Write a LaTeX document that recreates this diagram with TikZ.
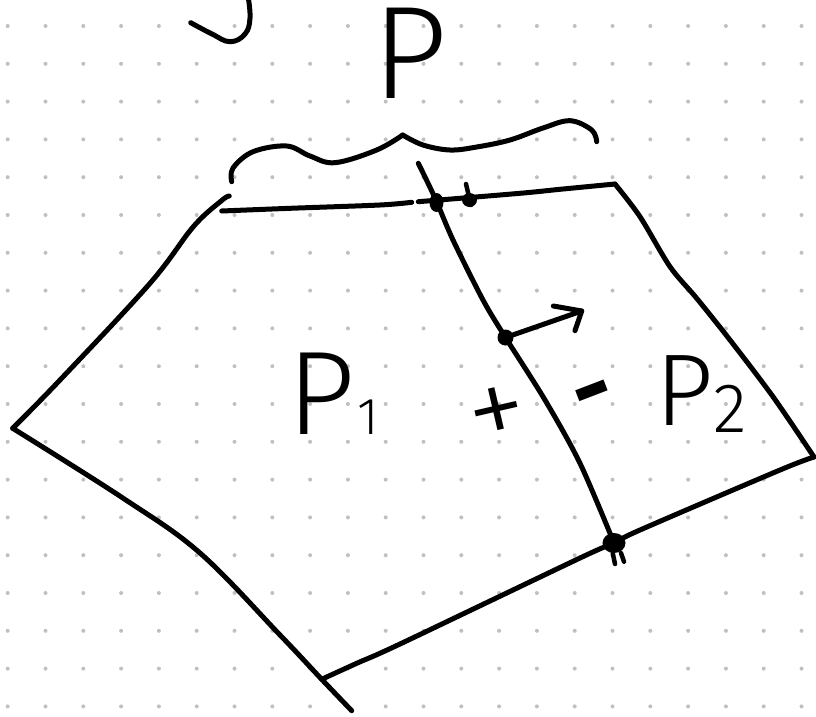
\documentclass[tikz,border=0pt]{standalone}
\usepackage{fontspec}
\newfontfamily\hand{Fira Sans Light}
\newfontfamily\handb{Fira Sans}
\definecolor{dotgray}{RGB}{192,192,192}
\begin{document}
\begin{tikzpicture}[x=1pt,y=-1pt,
  stroke/.style={line width=5pt, line cap=round, line join=round, draw=black},
  dotnode/.style={circle, fill=black, inner sep=0pt, minimum size=16pt},
  handtext/.style={inner sep=0pt, anchor=base, text=black},
]
\fill[white] (0,0) rectangle (816,717);
\useasboundingbox (0,0) rectangle (816,717);
% dotted paper
\foreach \i in {0,...,21}{\foreach \j in {0,...,18}{\fill[dotgray] ({7.7+37.8*\i},{26+37.8*\j}) circle (2pt);}}

% named points
\coordinate (TR) at (615,184);
\coordinate (R) at (814,457);
\coordinate (BM) at (614,543);
\coordinate (BL) at (321.7,679.3);
\coordinate (L) at (12.7,428.3);
\coordinate (tip) at (581.7,311);

% cut-off stroke at the top left
\draw[stroke] plot[smooth, tension=0.7] coordinates {(190.7,22.7) (212,34) (230,41.7) (245,34) (250,18) (248,-4)};

% brace
\draw[stroke] plot[smooth, tension=0.6] coordinates {(231.7,181.7) (233,168) (253,151.7) (286.7,146) (310,156) (335,162.7) (376.7,150) (402.7,135)};
\draw[stroke] plot[smooth, tension=0.6] coordinates {(402.7,135) (423,145) (450,150) (476.7,147) (510,140) (543,128) (570,120.7) (591.7,130) (596.7,141.7)};

% top edge
\draw[stroke] plot[smooth] coordinates {(221.7,211) (290,208.3) (380,205) (411.7,202.3)};
\draw[stroke] plot[smooth] coordinates {(418.3,201.7) (520,193.3) (560,189.3) (TR)};

% upper left edge
\draw[stroke] plot[smooth, tension=0.6] coordinates {(229.3,196) (221.7,200.5) (193.3,226.7) (150,283.3) (60,380) (L)};
% lower left edge
\draw[stroke] plot[smooth, tension=0.6] coordinates {(L) (123.3,498.3) (200,553) (280,635) (BL) (351.7,710.7)};
% right edge
\draw[stroke] plot[smooth, tension=0.5] coordinates {(TR) (640,216.7) (670,266.7) (696.7,298.3) (730,340) (773,396.7) (R)};
% bottom edge
\draw[stroke] plot[smooth, tension=0.5] coordinates {(R) (780,470) (640,530) (BM) (580,558) (400,644) (356.7,663.3) (BL)};
% divider
\draw[stroke] plot[smooth, tension=0.5] coordinates {(418.3,163.3) (435,198) (453,240) (483,300) (505.5,337.5) (545,400) (580,463.3) (BM)};

% marks on the divider
\fill (436.5,202.5) ellipse [x radius=7pt, y radius=9.5pt];
\draw[stroke, line width=4.5pt] (466,184) -- (471,205);
\fill (469.5,200) ellipse [x radius=7.5pt, y radius=7pt];
\fill (BM) ellipse [x radius=11.5pt, y radius=10pt];
\draw[stroke, line width=4.5pt] (612.7,553) -- (615,564);
\draw[stroke, line width=4.5pt] (621,553) -- (624,561.7);

% normal vector
\node[dotnode] (mid) at (505.5,337.5) {};
\draw[stroke] (mid) -- (tip);
\draw[stroke] (tip) ++(-28.4,-5) -- (tip) -- ++(-6.7,19.7);

% labels
\node[handtext, font=\hand\fontsize{132}{132}\selectfont] (Ptop) at (410,98) {P};
\node[handtext, anchor=base west, font=\hand\fontsize{119}{119}\selectfont] (P1) at (287,434) {P\kern2pt{\fontsize{52}{52}\selectfont 1}};
\node[handtext, anchor=base west, font=\hand\fontsize{102}{102}\selectfont] (P2) at (655,425) {P\raisebox{-7pt}{\fontsize{70}{70}\selectfont 2}};
\node[inner sep=0pt, rotate=13, font=\hand\fontsize{120}{120}\selectfont] (plus) at (498,418) {+};
\node[inner sep=0pt, rotate=21, font=\handb\bfseries\fontsize{95}{95}\selectfont] (minus) at (596,402) {-};
\end{tikzpicture}
\end{document}
